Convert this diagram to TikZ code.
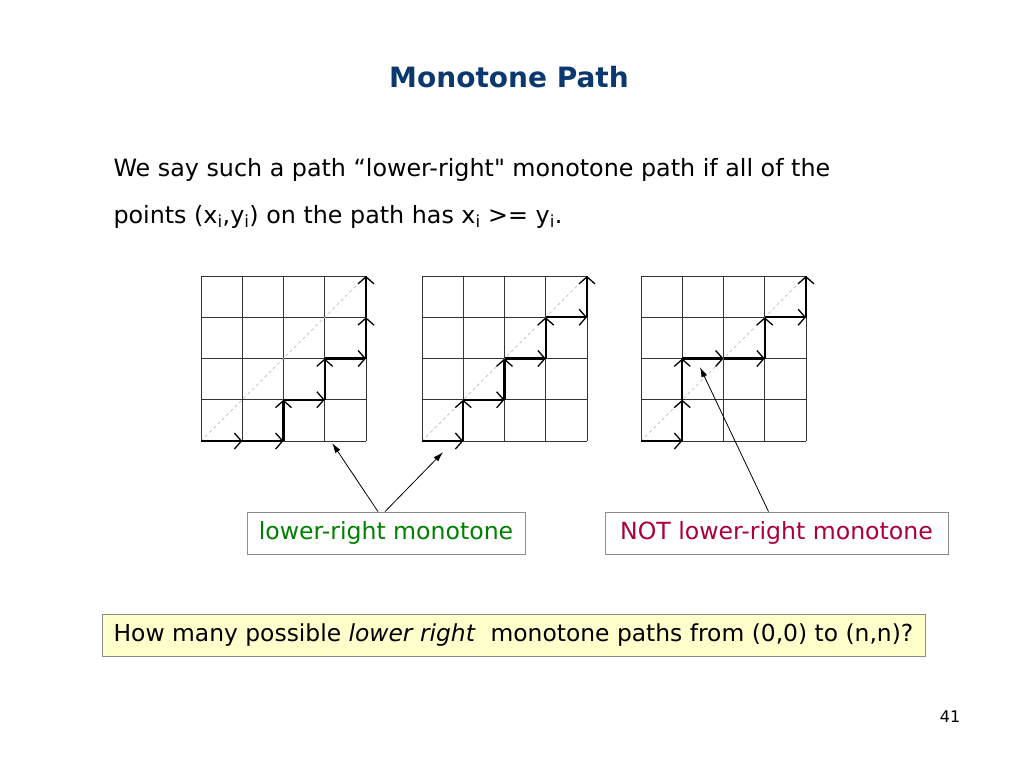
\documentclass[tikz,border=0pt]{standalone}
\usepackage{fontspec}
\setmainfont{DejaVu Sans}[Ligatures=TeXOff]
\usetikzlibrary{arrows.meta}

\definecolor{titleblue}{RGB}{12,56,112}
\definecolor{okgreen}{RGB}{0,128,0}
\definecolor{notred}{RGB}{170,0,55}
\definecolor{noteyellow}{RGB}{255,255,204}

\tikzset{
  cellgrid/.style={draw=black!80,line width=1pt},
  diagline/.style={draw=black!22,dashed,line width=0.8pt},
  stepline/.style={line width=2.4pt,-{Straight Barb[length=7pt,width=16pt,line width=1.3pt]}},
  labelbox/.style={draw=black!45,line width=0.8pt,minimum height=42pt,font=\fontsize{23.6}{28}\selectfont},
  pointer/.style={-{Latex[length=10pt,width=6pt]},line width=0.8pt}
}

\begin{document}
\begin{tikzpicture}[x=1pt,y=-1pt]
\useasboundingbox (0,0) rectangle (1024,768);

\node[font=\fontsize{28}{32}\selectfont\bfseries,text=titleblue] (title) at (509,77) {Monotone Path};

\node[anchor=base west,font=\fontsize{23.8}{28}\selectfont] (line1) at (110,176)
  {We say such a path “lower-right" monotone path if all of the};
\node[anchor=base west,font=\fontsize{23.8}{28}\selectfont] (line2) at (110,223)
  {points (x\textsubscript{i},y\textsubscript{i}) on the path has x\textsubscript{i} >= y\textsubscript{i}.};

% first grid
\begin{scope}[shift={(201,441)},x=41.25pt,y=41.25pt]
  \foreach \i in {0,...,4} {
    \draw[cellgrid] (\i,0) -- (\i,4);
    \draw[cellgrid] (0,\i) -- (4,\i);
  }
  \draw[diagline] (0,0) -- (4,4);
  \foreach \xa/\ya/\xb/\yb in {0/0/1/0,1/0/2/0,2/0/2/1,2/1/3/1,3/1/3/2,3/2/4/2,4/2/4/3,4/3/4/4}
    \draw[stepline] (\xa,\ya) -- (\xb,\yb);
  \coordinate (tipA) at (3.18,-0.05);
\end{scope}

% second grid
\begin{scope}[shift={(422,441)},x=41.25pt,y=41.25pt]
  \foreach \i in {0,...,4} {
    \draw[cellgrid] (\i,0) -- (\i,4);
    \draw[cellgrid] (0,\i) -- (4,\i);
  }
  \draw[diagline] (0,0) -- (4,4);
  \foreach \xa/\ya/\xb/\yb in {0/0/1/0,1/0/1/1,1/1/2/1,2/1/2/2,2/2/3/2,3/2/3/3,3/3/4/3,4/3/4/4}
    \draw[stepline] (\xa,\ya) -- (\xb,\yb);
  \coordinate (tipB) at (0.51,-0.27);
\end{scope}

% third grid
\begin{scope}[shift={(641,441)},x=41.25pt,y=41.25pt]
  \foreach \i in {0,...,4} {
    \draw[cellgrid] (\i,0) -- (\i,4);
    \draw[cellgrid] (0,\i) -- (4,\i);
  }
  \draw[diagline] (0,0) -- (4,4);
  \foreach \xa/\ya/\xb/\yb in {0/0/1/0,1/0/1/1,1/1/1/2,1/2/2/2,2/2/3/2,3/2/3/3,3/3/4/3,4/3/4/4}
    \draw[stepline] (\xa,\ya) -- (\xb,\yb);
  \coordinate (tipC) at (1.43,1.79);
\end{scope}

\node[labelbox,minimum width=278pt,text=okgreen] (okbox) at (386,533) {lower-right monotone};
\node[labelbox,minimum width=343pt,text=notred] (notbox) at (776.5,533) {NOT lower-right monotone};

\draw[pointer] ([xshift=-8pt]okbox.north) -- (tipA);
\draw[pointer] ([xshift=-1pt]okbox.north) -- (tipB);
\draw[pointer] ([xshift=-8pt]notbox.north) -- (tipC);

\node[labelbox,minimum width=823pt,fill=noteyellow,font=\fontsize{23.4}{28}\selectfont] (question) at (513.5,635)
  {How many possible \textit{lower right}\ \ monotone paths from (0,0) to (n,n)?};

\node[font=\fontsize{16}{19}\selectfont] (pagenum) at (950,717) {41};
\end{tikzpicture}
\end{document}
